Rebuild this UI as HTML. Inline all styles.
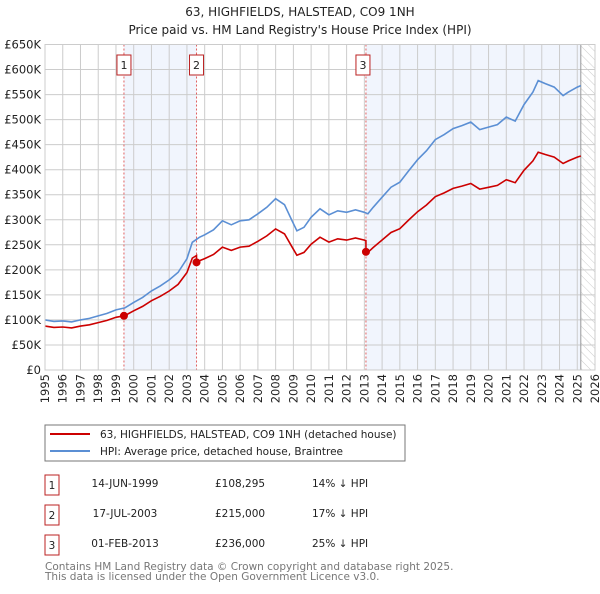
<!DOCTYPE html>
<html><head><meta charset="utf-8"><style>
body{margin:0;background:#fff;font-family:"DejaVu Sans","Liberation Sans",sans-serif;}
svg text{font-family:"DejaVu Sans","Liberation Sans",sans-serif;}
</style></head><body>
<svg id="c" width="600" height="590" xmlns="http://www.w3.org/2000/svg">
<defs><pattern id="hatch" width="6" height="6" patternUnits="userSpaceOnUse" patternTransform="rotate(-45)"><line x1="0" y1="0" x2="0" y2="6" stroke="#ccc" stroke-width="1"/></pattern></defs>
<text x="300" y="16" text-anchor="middle" font-size="12" fill="#222">63, HIGHFIELDS, HALSTEAD, CO9 1NH</text>
<text x="300" y="34" text-anchor="middle" font-size="12" fill="#222">Price paid vs. HM Land Registry's House Price Index (HPI)</text>
<g id="plot"></g>
<rect x="45" y="425" width="360" height="36" fill="#fff" stroke="#777"/>
<line x1="50" y1="434" x2="90" y2="434" stroke="#cc0000" stroke-width="2"/>
<text x="100" y="438" font-size="10.5" fill="#222">63, HIGHFIELDS, HALSTEAD, CO9 1NH (detached house)</text>
<line x1="50" y1="451" x2="90" y2="451" stroke="#5b8fd4" stroke-width="2"/>
<text x="100" y="455" font-size="10.5" fill="#222">HPI: Average price, detached house, Braintree</text>
<g id="tbl" font-size="10.5" fill="#222"></g>
<text x="45" y="570" font-size="10.5" fill="#777">Contains HM Land Registry data © Crown copyright and database right 2025.</text>
<text x="45" y="580" font-size="10.5" fill="#777">This data is licensed under the Open Government Licence v3.0.</text>
</svg>
<script>
const hpiYears=[1995,1995.5,1996,1996.5,1997,1997.5,1998,1998.5,1999,1999.5,2000,2000.5,2001,2001.5,2002,2002.5,2003,2003.3,2003.7,2004,2004.5,2005,2005.5,2006,2006.5,2007,2007.5,2008,2008.5,2008.9,2009.2,2009.6,2010,2010.5,2011,2011.5,2012,2012.5,2013,2013.2,2013.5,2014,2014.5,2015,2015.5,2016,2016.5,2017,2017.5,2018,2018.5,2019,2019.5,2020,2020.5,2021,2021.5,2022,2022.5,2022.8,2023.2,2023.7,2024.2,2024.5,2025,2025.2];
const hpiValues=[100,97,98,96,100,103,108,113,120,124,135,145,158,168,180,195,222,255,265,270,280,298,290,298,300,312,325,342,330,300,278,285,305,322,310,318,315,320,315,312,325,345,365,375,398,420,438,460,470,482,488,495,480,485,490,505,497,530,555,578,572,565,548,555,565,568];
const saleYears=[1999.45,2003.54,2013.09];
const salePrices=[108.295,215,236];
const saleDates=["14-JUN-1999","17-JUL-2003","01-FEB-2013"];
const saleLabels=["£108,295","£215,000","£236,000"];
const salePcts=["14% ↓ HPI","17% ↓ HPI","25% ↓ HPI"];
const yTicks=[0,50,100,150,200,250,300,350,400,450,500,550,600,650];
const yTickLabels=["£0","£50K","£100K","£150K","£200K","£250K","£300K","£350K","£400K","£450K","£500K","£550K","£600K","£650K"];
const xTicks=[1995,1996,1997,1998,1999,2000,2001,2002,2003,2004,2005,2006,2007,2008,2009,2010,2011,2012,2013,2014,2015,2016,2017,2018,2019,2020,2021,2022,2023,2024,2025,2026];

const NS="http://www.w3.org/2000/svg";
const L=45,R=595,T=44.5,B=370;
const X=y=>L+(y-1995)/(2026-1995)*(R-L);
const Y=v=>B-v/650*(B-T);
const plot=document.getElementById('plot');
function mk(tag,at,parent){const e=document.createElementNS(NS,tag);for(const k in at)e.setAttribute(k,at[k]);(parent||plot).appendChild(e);return e;}
function hpiAt(t){for(let i=1;i<hpiYears.length;i++){if(t<=hpiYears[i]){const f=(t-hpiYears[i-1])/(hpiYears[i]-hpiYears[i-1]);return hpiValues[i-1]+f*(hpiValues[i]-hpiValues[i-1]);}}return hpiValues[hpiValues.length-1];}
const lastYear=hpiYears[hpiYears.length-1];
// shaded regions
let e=mk('rect',{x:X(saleYears[0]),y:T,width:X(saleYears[1])-X(saleYears[0]),height:B-T,fill:'#eef3fc',opacity:0.8});

e=mk('rect',{x:X(saleYears[2]),y:T,width:X(lastYear)-X(saleYears[2]),height:B-T,fill:'#eef3fc',opacity:0.8});

e=mk('rect',{x:X(lastYear),y:T,width:R-X(lastYear),height:B-T,fill:'url(#hatch)'});

// grid
yTicks.forEach((v,i)=>{
 const g=mk('line',{x1:L,x2:R,y1:Y(v),y2:Y(v),stroke:'#ccc','stroke-width':1});
 
 const t=mk('text',{x:L-4,y:Y(v)+4,'text-anchor':'end','font-size':'11.5',fill:'#222'});
 
 t.textContent=yTickLabels[i];
});
xTicks.forEach(yr=>{
 const g=mk('line',{x1:X(yr),x2:X(yr),y1:T,y2:B,stroke:'#ccc','stroke-width':1});
 
 const t=mk('text',{x:0,y:0,'text-anchor':'end','font-size':'11.5',fill:'#222',transform:`translate(${X(yr)+4},${B+4}) rotate(-90)`});
 
 t.textContent=yr;
});
e=mk('line',{x1:X(lastYear),x2:X(lastYear),y1:T,y2:B,stroke:'#999','stroke-width':1});

// sale vlines & markers
saleYears.forEach((s,i)=>{
 const l=mk('line',{x1:X(s),x2:X(s),y1:T,y2:B,stroke:'#e06060','stroke-width':1,'stroke-dasharray':'2,2'});
 
 const bx=X(s)-7-(i===2?3:0);
 const r=mk('rect',{x:bx,y:55,width:14,height:20,fill:'#fff',stroke:'#b22'});
 
 const t=mk('text',{x:bx+7,y:69,'text-anchor':'middle','font-size':'11',fill:'#222'});
 
 t.textContent=i+1;
});
// series
const hpiPts=hpiYears.map((t,i)=>X(t).toFixed(1)+','+Y(hpiValues[i]).toFixed(1));
e=mk('polyline',{points:hpiPts.join(' '),fill:'none',stroke:'#5b8fd4','stroke-width':1.6});

// property line: HPI-indexed from each sale
function redAt(t){let k=0;for(let i=0;i<saleYears.length;i++)if(t>=saleYears[i])k=i;return salePrices[k]*hpiAt(t)/hpiAt(saleYears[k]);}
const rp=[];
hpiYears.forEach((t,i)=>{
 saleYears.forEach((s,k)=>{if(s>(i?hpiYears[i-1]:0)&&s<=t){rp.push([s-0.001,k?salePrices[k-1]*hpiAt(s)/hpiAt(saleYears[k-1]):salePrices[0]]);rp.push([s,salePrices[k]]);}});
 rp.push([t,redAt(t)]);
});
e=mk('polyline',{points:rp.map(p=>X(p[0]).toFixed(1)+','+Y(p[1]).toFixed(1)).join(' '),fill:'none',stroke:'#cc0000','stroke-width':1.6});

saleYears.forEach((s,i)=>{
 const c=mk('circle',{cx:X(s),cy:Y(salePrices[i]),r:4,fill:'#cc0000'});
 
});
e=mk('rect',{x:L,y:T,width:R-L,height:B-T,fill:'none',stroke:'#ccc'});

// table
const tbl=document.getElementById('tbl');
saleDates.forEach((d,i)=>{
 const y0=475+i*30;
 const r=mk('rect',{x:45,y:y0,width:14,height:20,fill:'#fff',stroke:'#b22'},tbl);
 
 let t=mk('text',{x:52,y:y0+14,'text-anchor':'middle'},tbl);t.textContent=i+1;
 
 t=mk('text',{x:125,y:y0+12,'text-anchor':'middle'},tbl);t.textContent=d;
 
 t=mk('text',{x:215,y:y0+12},tbl);t.textContent=saleLabels[i];
 
 t=mk('text',{x:312,y:y0+12},tbl);t.textContent=salePcts[i];
 
});
</script>
</body></html>
